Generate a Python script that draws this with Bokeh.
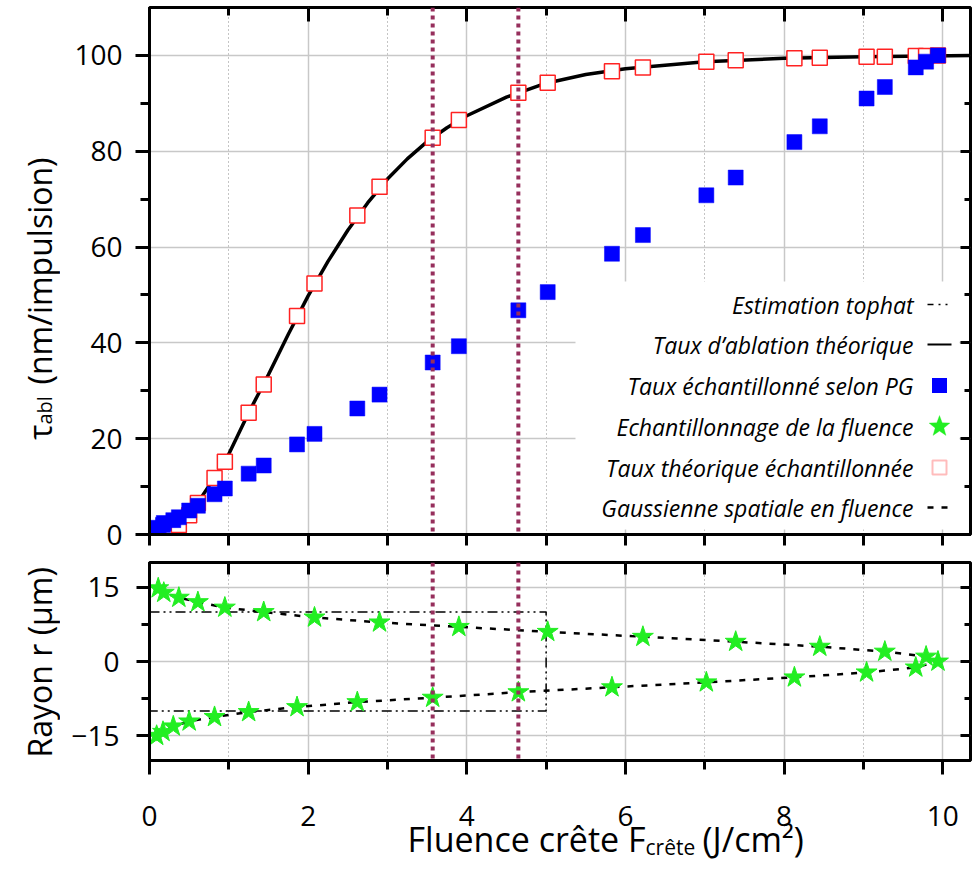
import math
from bokeh.plotting import figure
from bokeh.models import (FixedTicker, LinearAxis, Range1d, Span, Label, BoxAnnotation, Arrow,
                          PolyAnnotation, CustomLabelingPolicy)
from bokeh.layouts import column, row
from bokeh.core.properties import value
from bokeh.embed import file_html
from bokeh.resources import INLINE

# ---------------- data ----------------
f_upper = [0.11, 0.18, 0.37, 0.61, 0.95, 1.44, 2.08, 2.90, 3.90, 5.02, 6.22, 7.39, 8.45, 9.27, 9.79, 9.94]
r_upper = [14.8, 13.9, 12.9, 12.0, 10.9, 10.0, 8.9, 7.9, 7.0, 6.0, 5.0, 4.0, 3.0, 2.0, 1.0, 0.0]
f_lower = [0.09, 0.17, 0.30, 0.50, 0.82, 1.25, 1.86, 2.62, 3.57, 4.65, 5.83, 7.02, 8.13, 9.04, 9.66]
r_lower = [-15.0, -14.2, -13.1, -12.1, -11.2, -10.2, -9.2, -8.2, -7.3, -6.2, -5.2, -4.2, -3.2, -2.2, -1.2]

f_samples = [0.09, 0.11, 0.17, 0.18, 0.30, 0.37, 0.50, 0.61, 0.82, 0.95, 1.25, 1.44, 1.86, 2.08, 2.62, 2.90,
             3.57, 3.90, 4.65, 5.02, 5.83, 6.22, 7.02, 7.39, 8.13, 8.45, 9.04, 9.27, 9.66, 9.79, 9.94]
tau_theo_sampled = [0.2, 0.3, 0.6, 0.7, 1.3, 2.0, 4.0, 6.6, 11.8, 15.2, 25.4, 31.3, 45.6, 52.4, 66.6, 72.6,
                    82.8, 86.5, 92.2, 94.3, 96.7, 97.5, 98.7, 99.0, 99.4, 99.5, 99.7, 99.7, 99.9, 99.9, 100.0]
tau_pg = [1.0, 1.4, 2.0, 2.4, 3.0, 3.6, 5.0, 6.0, 8.4, 9.6, 12.7, 14.4, 18.8, 21.0, 26.3, 29.2,
          35.9, 39.3, 46.8, 50.6, 58.6, 62.5, 70.8, 74.5, 81.9, 85.2, 91.0, 93.4, 97.5, 98.7, 100.0]

theo_f = [0.0, 0.2, 0.4, 0.6, 0.8, 1.0, 1.25, 1.5, 1.75, 2.0, 2.25, 2.5, 2.75, 3.0, 3.25, 3.5, 3.75,
          4.0, 4.5, 5.0, 5.5, 6.0, 7.0, 8.0, 9.0, 10.4]
theo_tau = [0.0, 0.7, 2.3, 6.4, 11.4, 16.8, 25.4, 33.4, 41.8, 49.8, 57.0, 63.5, 69.2, 74.2, 78.4, 82.0, 84.9,
            87.4, 91.3, 94.2, 96.0, 97.2, 98.7, 99.4, 99.7, 100.0]

tophat_f = [0.0, 5.0, 5.0, 0.0]
tophat_r = [10.0, 10.0, -10.0, -10.0]

seuil_f = [3.57, 4.65]

x_major = [0, 2, 4, 6, 8, 10]
x_minor = [1, 3, 5, 7, 9]
y1_major = [0, 20, 40, 60, 80, 100]
y1_minor = [10, 30, 50, 70, 90]
y2_major = [-15, 0, 15]
y2_minor = [-7.5, 7.5]

legend_labels = ["Estimation tophat", "Taux d\u2019ablation th\u00e9orique", "Taux \u00e9chantillonn\u00e9 selon PG",
                 "Echantillonnage de la fluence", "Taux th\u00e9orique \u00e9chantillonn\u00e9e",
                 "Gaussienne spatiale en fluence"]

# ---------------- styling / layout ----------------
FONT = "Open Sans"
TICK_FS = "28px"
LABW = 60            # strip holding the rotated y titles (full height)
FRAME_L = 149        # frame left edge in page pixels
BORDER_L = FRAME_L - LABW
FRAME_W = 821
X_END = 10.35
MAROON = "#962f5c"
BLUE = "#0000ff"
RED = "#ff2222"
GREEN = "#22ee22"
PAGE_H = 870
TOP1, FH1, BOT1 = 7, 527, 18
TOP2, FH2, BOT2 = 10, 198, 100
H1 = TOP1 + FH1 + BOT1
H2 = TOP2 + FH2 + BOT2
XL_TOP = 800
OVERLAP = H1 + H2 - XL_TOP
H3 = PAGE_H - XL_TOP
COL_W = BORDER_L + FRAME_W + 2


def no_labels():
    return CustomLabelingPolicy(code="const r = indices.clone(); for (let i = 0; i < r.size; i++) r.unset(i); return r;")


def style_common(p):
    p.outline_line_color = "black"
    p.outline_line_width = 3
    p.xgrid.grid_line_color = "#c8c8c8"
    p.xgrid.grid_line_width = 1.5
    p.xgrid.minor_grid_line_color = "#8a8a8a"
    p.xgrid.minor_grid_line_dash = "1 3"
    p.xgrid.minor_grid_line_width = 1
    p.ygrid.grid_line_color = "#c8c8c8"
    p.ygrid.grid_line_width = 1.5


def config_axis(ax, ticker, tin, tmin_in, tout, tmin_out, labels, standoff=0, line=True):
    ax.ticker = ticker
    ax.major_tick_in = tin
    ax.minor_tick_in = tmin_in
    ax.major_tick_out = tout
    ax.minor_tick_out = tmin_out
    ax.major_tick_line_width = 3
    ax.minor_tick_line_width = 3
    ax.axis_line_width = 3
    if not line:
        ax.axis_line_color = None
    if labels:
        ax.major_label_text_font = FONT
        ax.major_label_text_font_size = TICK_FS
        ax.major_label_text_color = "black"
        ax.major_label_standoff = standoff
    else:
        ax.major_label_text_font_size = "0px"
        ax.major_label_standoff = 0
        ax.major_label_policy = no_labels()
    return ax


def tick_only_axis(ticker, tin, tmin_in):
    return config_axis(LinearAxis(), ticker, tin, tmin_in, 0, 0, False, line=False)


def xt():
    return FixedTicker(ticks=x_major, minor_ticks=x_minor)


def text_strip(w, h, x0, x1, left=0, right=0):
    s = figure(width=w, height=h, x_range=Range1d(x0, x1), y_range=Range1d(0, h), x_axis_type=None,
               y_axis_type=None, min_border_left=left, min_border_right=right, min_border_top=0,
               min_border_bottom=0, outline_line_color=None, toolbar_location=None, output_backend="svg")
    s.background_fill_color = None
    s.border_fill_color = None
    return s


# ---------------- top figure ----------------
p1 = figure(frame_width=FRAME_W, frame_height=FH1, x_range=Range1d(0, X_END), y_range=Range1d(0, 110),
            output_backend="svg", toolbar_location=None,
            min_border_left=BORDER_L, min_border_right=2, min_border_top=TOP1, min_border_bottom=BOT1)
style_common(p1)
config_axis(p1.xaxis[0], xt(), 0, 0, 11, 11, False)
config_axis(p1.yaxis[0], FixedTicker(ticks=y1_major, minor_ticks=y1_minor), 0, 0, 14, 9, True, 13)
p1.add_layout(tick_only_axis(xt(), 14, 8), "above")
p1.add_layout(tick_only_axis(FixedTicker(ticks=y1_major, minor_ticks=y1_minor), 10, 6), "right")

p1.line(theo_f, theo_tau, line_color="black", line_width=3.5)
p1.scatter(f_samples, tau_theo_sampled, marker="square", size=15, fill_color="white",
           line_color=RED, line_width=1.5)
p1.scatter(f_samples, tau_pg, marker="square", size=15, fill_color=BLUE, line_color=BLUE, line_width=0.5)

# ---------------- bottom figure ----------------
p2 = figure(frame_width=FRAME_W, frame_height=FH2, x_range=p1.x_range, y_range=Range1d(-20, 20),
            output_backend="svg", toolbar_location=None,
            min_border_left=BORDER_L, min_border_right=2, min_border_top=TOP2, min_border_bottom=BOT2)
style_common(p2)
config_axis(p2.xaxis[0], xt(), 0, 0, 14, 9, True, 31)
config_axis(p2.yaxis[0], FixedTicker(ticks=y2_major, minor_ticks=y2_minor), 0, 0, 13, 8, True, 17)
p2.add_layout(tick_only_axis(xt(), 12, 12), "above")
p2.add_layout(tick_only_axis(FixedTicker(ticks=y2_major, minor_ticks=y2_minor), 10, 6), "right")

p2.line(tophat_f, tophat_r, line_color="black", line_width=1.5, line_dash="10 4 2 4 2 4")
p2.line(f_upper + f_lower[::-1], r_upper + r_lower[::-1], line_color="black", line_width=2.5, line_dash="6 8")
p2.scatter(f_upper + f_lower, r_upper + r_lower, marker="star", size=22, fill_color=GREEN, line_color=GREEN)

for p in (p1, p2):
    for f in seuil_f:
        p.add_layout(Span(location=f, dimension="height", line_color=MAROON, line_width=4, line_dash="4 4"))

# ---------------- axis titles (text strips; data units = page pixels) ----------------
ang = math.pi / 2
yl = text_strip(LABW, PAGE_H, 0, LABW)
yl.text(x=[39], y=[PAGE_H - 424], text=["\u03c4"], angle=ang, text_align="right", text_baseline="alphabetic",
        text_font=value(FONT), text_font_size="32px", text_color="black")
yl.text(x=[44], y=[PAGE_H - 424], text=["abl"], angle=ang, text_align="left", text_baseline="alphabetic",
        text_font=value(FONT), text_font_size="20px", text_color="black")
yl.text(x=[39], y=[PAGE_H - 384], text=["(nm/impulsion)"], angle=ang, text_align="left",
        text_baseline="alphabetic", text_font=value(FONT), text_font_size="32px", text_color="black")
yl.text(x=[39], y=[PAGE_H - 757], text=["Rayon r (\u03bcm)"], angle=ang, text_align="left",
        text_baseline="alphabetic", text_font=value(FONT), text_font_size="32px", text_color="black")

# x title strip: its frame lines up with the plot frames (page x = data x)
xl = text_strip(COL_W, H3, FRAME_L, FRAME_L + FRAME_W, left=BORDER_L, right=2)
xl.margin = (-OVERLAP, 0, 0, 0)
XA = 645
xl.text(x=[XA], y=[32], text=["Fluence cr\u00eate F"], text_align="right", text_baseline="alphabetic",
        text_font=value(FONT), text_font_size="34px", text_color="black")
xl.text(x=[XA], y=[24], text=["cr\u00eate"], text_align="left", text_baseline="alphabetic",
        text_font=value(FONT), text_font_size="21px", text_color="black")
xl.text(x=[XA + 57], y=[32], text=["(J/cm\u00b2)"], text_align="left", text_baseline="alphabetic",
        text_font=value(FONT), text_font_size="34px", text_color="black")

# ---------------- legend (text left of key) ----------------
p1.add_layout(BoxAnnotation(left=426, right=810, bottom=5, top=253, left_units="screen", right_units="screen",
                            bottom_units="screen", top_units="screen", fill_color="white", fill_alpha=1,
                            line_color=None))
rows_y = [230, 190, 149, 108, 67, 27]
text_x = 764
key_x = 790
for lbl, yy in zip(legend_labels, rows_y):
    p1.add_layout(Label(x=text_x, y=yy, x_units="screen", y_units="screen", text=lbl, text_align="right",
                        text_baseline="middle", text_font=FONT, text_font_size="23px",
                        text_font_style="italic", text_color="black"))


def key_line(yy, dash, width):
    p1.add_layout(Arrow(x_start=key_x - 12, y_start=yy, x_end=key_x + 12, y_end=yy, start_units="screen",
                        end_units="screen", start=None, end=None, line_color="black", line_width=width,
                        line_dash=dash))


key_line(rows_y[0], "6 5 2 5 2 5", 1.5)
key_line(rows_y[1], "solid", 2)
p1.add_layout(BoxAnnotation(left=key_x - 7.5, right=key_x + 7.5, bottom=rows_y[2] - 7.5, top=rows_y[2] + 7.5,
                            left_units="screen", right_units="screen", bottom_units="screen", top_units="screen",
                            fill_color=BLUE, fill_alpha=1, line_color=None))
star_xs, star_ys = [], []
for k in range(10):
    rad = 11 if k % 2 == 0 else 4.6
    a = math.pi / 2 + k * math.pi / 5
    star_xs.append(key_x + rad * math.cos(a))
    star_ys.append(rows_y[3] + rad * math.sin(a))
p1.add_layout(PolyAnnotation(xs=star_xs, ys=star_ys, xs_units="screen", ys_units="screen",
                             fill_color=GREEN, fill_alpha=1, line_color=GREEN))
p1.add_layout(BoxAnnotation(left=key_x - 7, right=key_x + 7, bottom=rows_y[4] - 7, top=rows_y[4] + 7,
                            left_units="screen", right_units="screen", bottom_units="screen", top_units="screen",
                            fill_color="white", fill_alpha=1, line_color=RED, line_width=2))
key_line(rows_y[5], "6 8", 2.5)

layout = row(yl, column(p1, p2, xl))
open("out.html", "w").write(file_html(layout, INLINE))
